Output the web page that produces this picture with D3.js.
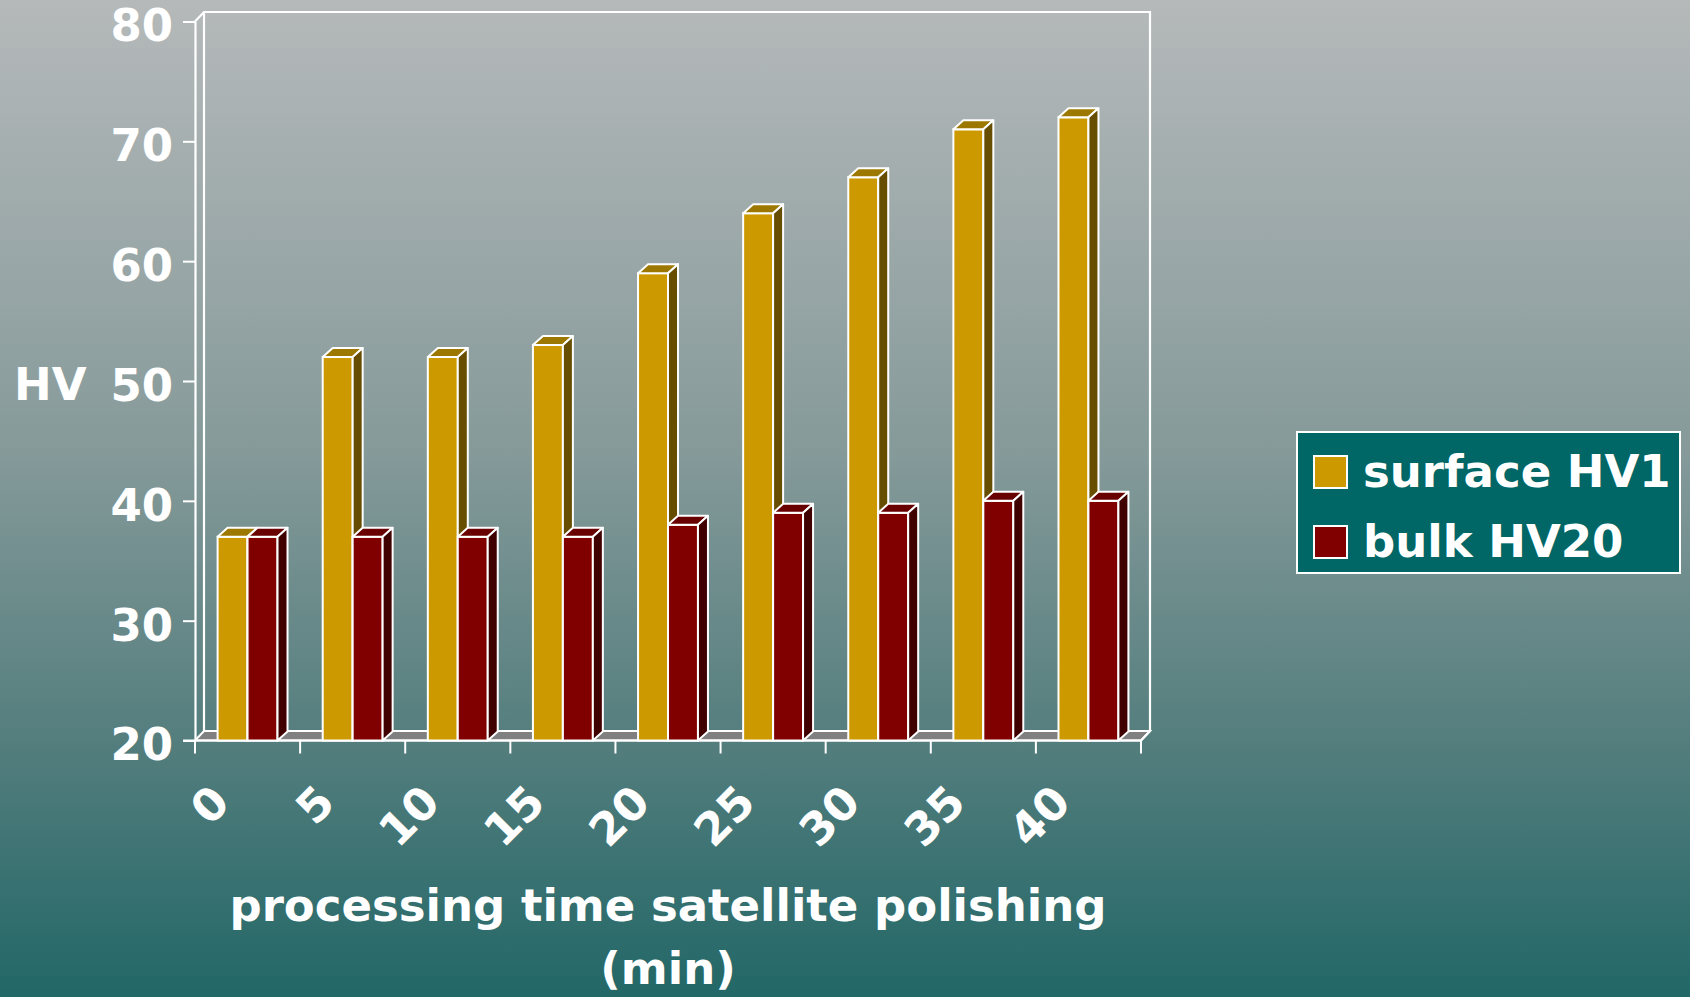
<!DOCTYPE html>
<html>
<head>
<meta charset="utf-8">
<script src="https://cdn.jsdelivr.net/npm/d3@7"></script>
<style>
  html, body { margin: 0; padding: 0; overflow: hidden; }
  svg { display: block; }
  text { font-family: "DejaVu Sans", Verdana, sans-serif; font-weight: bold; fill: #ffffff; }
</style>
</head>
<body>
<script>
// ---- data ----
const categories = ["0", "5", "10", "15", "20", "25", "30", "35", "40"];
const surfaceHV1 = [37, 52, 52, 53, 59, 64, 67, 71, 72];
const bulkHV20 = [37, 37, 37, 37, 38, 39, 39, 40, 40];
const seriesNames = ["surface HV1", "bulk HV20"];
const yTickValues = [20, 30, 40, 50, 60, 70, 80];
const yLabel = "HV";
const xLabelLines = ["processing time satellite polishing", "(min)"];

// ---- layout ----
const W = 1690, H = 997;
const X0 = 195, X1 = 1141;
const wallDX = 9, wallDY = 9.5;
const barDX = 10, barDY = 9;
const fontSize = 45;

const colors = {
  surface: { front: "#CC9900", top: "#9C7800", side: "#664D00" },
  bulk: { front: "#800000", top: "#690000", side: "#400000" }
};

const svg = d3.select("body").append("svg").attr("width", W).attr("height", H);

const defs = svg.append("defs");
const grad = defs.append("linearGradient").attr("id", "bg").attr("x1", 0).attr("y1", 0).attr("x2", 0).attr("y2", 1);
[[0, "#B5B9BA"], [0.45, "#869A9A"], [0.75, "#537D7D"], [1, "#226767"]].forEach(([o, c]) =>
  grad.append("stop").attr("offset", o).attr("stop-color", c));
svg.append("rect").attr("width", W).attr("height", H).attr("fill", "url(#bg)");

const x = d3.scaleBand().domain(categories).range([X0, X1]).padding(0);
const inner = d3.scaleBand().domain(["surface", "bulk"]).range([x.bandwidth() * 0.215, x.bandwidth() * 0.785]);
const y = d3.scaleLinear().domain([20, 80]).range([740.5, 21.5]);

const yb = y(20), yt = y(80);

// floor
svg.append("path")
  .attr("d", `M${X0},${yb} L${X1},${yb} L${X1 + wallDX},${yb - wallDY} L${X0 + wallDX},${yb - wallDY} Z`)
  .attr("fill", "#808080").attr("stroke", "#ffffff").attr("stroke-width", 2);

// walls outline
svg.append("path")
  .attr("d", `M${X0},${yt} L${X0 + wallDX},${yt - wallDY} L${X1 + wallDX},${yt - wallDY} L${X1 + wallDX},${yb - wallDY} L${X1},${yb}`)
  .attr("fill", "none").attr("stroke", "#ffffff").attr("stroke-width", 2.2);
svg.append("line")
  .attr("x1", X0 + wallDX).attr("y1", yt - wallDY).attr("x2", X0 + wallDX).attr("y2", yb - wallDY)
  .attr("stroke", "#ffffff").attr("stroke-width", 2.2);

// y axis
const yAxis = d3.axisLeft(y).tickValues(yTickValues).tickSize(12).tickSizeOuter(0).tickPadding(10);
const gy = svg.append("g").attr("transform", `translate(${X0},0)`).call(yAxis);
gy.select(".domain").attr("stroke", "#ffffff").attr("stroke-width", 2.2);
gy.selectAll(".tick line").attr("stroke", "#ffffff").attr("stroke-width", 2);
gy.selectAll(".tick text")
  .attr("font-size", fontSize).attr("font-family", null).attr("fill", "#ffffff")
  .attr("dy", "0.43em");

// x axis line and ticks at band boundaries
svg.append("line").attr("x1", X0 - 12).attr("x2", X1).attr("y1", yb).attr("y2", yb)
  .attr("stroke", "#ffffff").attr("stroke-width", 2);
const boundaries = categories.map(c => x(c)).concat([x.range()[1]]);
svg.append("g").selectAll("line").data(boundaries).join("line")
  .attr("x1", d => d).attr("x2", d => d).attr("y1", yb).attr("y2", yb + 13)
  .attr("stroke", "#ffffff").attr("stroke-width", 2);

// x tick labels
svg.append("g").selectAll("text").data(categories).join("text")
  .attr("transform", d => `translate(${x(d) + x.bandwidth() / 2 - 27},${yb + 53}) rotate(-45)`)
  .attr("text-anchor", "end").attr("dy", "0.36em")
  .attr("font-size", fontSize)
  .text(d => d);

// bars
function bar3d(g, x0, w, v, col) {
  const top = y(v);
  g.append("rect").attr("x", x0).attr("y", top).attr("width", w).attr("height", yb - top)
    .attr("fill", col.front).attr("stroke", "#ffffff").attr("stroke-width", 2);
  g.append("path")
    .attr("d", `M${x0},${top} L${x0 + barDX},${top - barDY} L${x0 + w + barDX},${top - barDY} L${x0 + w},${top} Z`)
    .attr("fill", col.top).attr("stroke", "#ffffff").attr("stroke-width", 2).attr("stroke-linejoin", "round");
  g.append("path")
    .attr("d", `M${x0 + w},${top} L${x0 + w + barDX},${top - barDY} L${x0 + w + barDX},${yb - barDY} L${x0 + w},${yb} Z`)
    .attr("fill", col.side).attr("stroke", "#ffffff").attr("stroke-width", 2).attr("stroke-linejoin", "round");
}
const barsG = svg.append("g");
categories.forEach((c, i) => {
  const g = barsG.append("g");
  bar3d(g, x(c) + inner("surface"), inner.bandwidth(), surfaceHV1[i], colors.surface);
  bar3d(g, x(c) + inner("bulk"), inner.bandwidth(), bulkHV20[i], colors.bulk);
});

// y label
svg.append("text").attr("x", 14).attr("y", 400).attr("font-size", fontSize).text(yLabel);

// x label
const cx = (X0 + X1) / 2;
svg.append("g").selectAll("text").data(xLabelLines).join("text")
  .attr("x", cx).attr("y", (d, i) => 921 + i * 63)
  .attr("text-anchor", "middle").attr("font-size", fontSize)
  .text(d => d);

// legend
const lg = svg.append("g");
lg.append("rect").attr("x", 1297).attr("y", 432).attr("width", 383).attr("height", 141)
  .attr("fill", "#006666").attr("stroke", "#ffffff").attr("stroke-width", 2);
const legendColors = [colors.surface.front, colors.bulk.front];
seriesNames.forEach((name, i) => {
  const yy = 456 + i * 70;
  lg.append("rect").attr("x", 1314).attr("y", yy).attr("width", 33).attr("height", 32)
    .attr("fill", legendColors[i]).attr("stroke", "#ffffff").attr("stroke-width", 2);
  lg.append("text").attr("x", 1363).attr("y", yy + 31).attr("font-size", fontSize).text(name);
});
</script>
</body>
</html>
